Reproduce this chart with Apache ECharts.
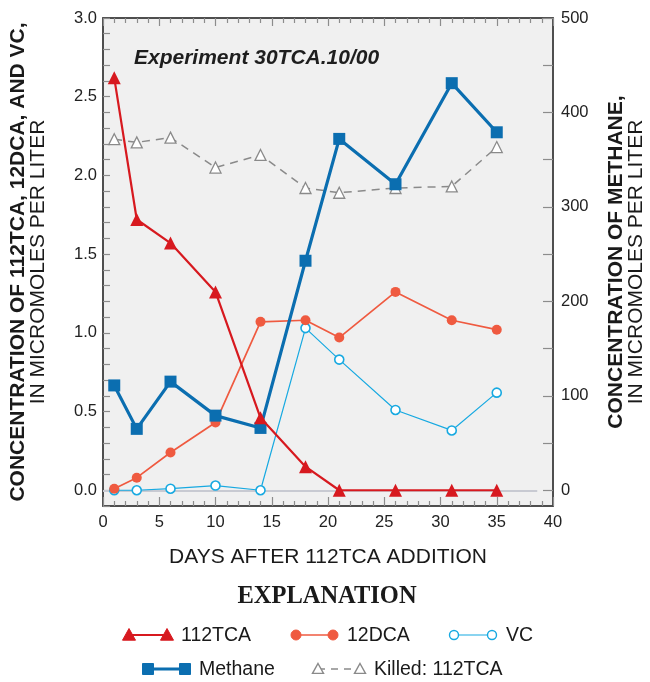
<!DOCTYPE html>
<html>
<head>
<meta charset="utf-8">
<script src="https://cdn.jsdelivr.net/npm/echarts@6/dist/echarts.min.js"></script>
<style>
  html, body { margin: 0; padding: 0; background: #ffffff; }
  #chart { width: 650px; height: 682px; }
</style>
</head>
<body>
<div id="chart"></div>
<script>
// Sampling days
var days = [1, 3, 6, 10, 14, 18, 21, 26, 31, 35];

// Concentrations, micromoles per liter (left axis)
var tca112 = [2.62, 1.72, 1.57, 1.26, 0.46, 0.15, 0, 0, 0, 0];
var dca12 = [0.01, 0.08, 0.24, 0.43, 1.07, 1.08, 0.97, 1.26, 1.08, 1.02];
var vc = [0, 0, 0.01, 0.03, 0, 1.03, 0.83, 0.51, 0.38, 0.62];
var killedTca = [2.23, 2.21, 2.24, 2.05, 2.13, 1.92, 1.89, 1.92, 1.93, 2.18];

// Methane, micromoles per liter (right axis)
var methane = [111, 65, 115, 79, 66, 243, 372, 324, 431, 379];

// Tick labels
var xLabels = [0, 5, 10, 15, 20, 25, 30, 35, 40];
var leftLabels = [0, 0.5, 1, 1.5, 2, 2.5, 3];
var rightLabels = [0, 100, 200, 300, 400, 500];
var rightTicks = [0, 50, 100, 150, 200, 250, 300, 350, 400, 450, 500];

var FONT = '"Liberation Sans", Arial, Helvetica, sans-serif';
var C_TCA = '#d7191f';
var C_DCA = '#ef5a40';
var C_VC = '#17a9e1';
var C_CH4 = '#0b6eb0';
var C_KILLED = '#8a8a8a';
var AXIS_LINE = '#444444';
var TICK = '#8c8c8c';

function pairs(xs, ys) {
  return xs.map(function (x, i) { return [x, ys[i]]; });
}

var chart = echarts.init(document.getElementById('chart'), null, { renderer: 'canvas' });

// Legend swatches: a line with a marker at each end
function legendEntry(x1, x2, y, color, lineWidth, dash, marker, filled, size, label) {
  var els = [];
  els.push({
    type: 'line', silent: true,
    shape: { x1: x1, y1: y, x2: x2, y2: y },
    style: { stroke: color, lineWidth: lineWidth, lineDash: dash || null }
  });
  [x1, x2].forEach(function (cx) {
    var style = filled
      ? { fill: color, stroke: color, lineWidth: 1 }
      : { fill: '#ffffff', stroke: color, lineWidth: 1.4 };
    var h = size / 2;
    if (marker === 'triangle') {
      els.push({ type: 'polygon', silent: true,
        shape: { points: [[cx, y - h], [cx + h, y + h * 0.8], [cx - h, y + h * 0.8]] }, style: style });
    } else if (marker === 'circle') {
      els.push({ type: 'circle', silent: true, shape: { cx: cx, cy: y, r: h }, style: style });
    } else {
      els.push({ type: 'rect', silent: true, shape: { x: cx - h, y: y - h, width: size, height: size }, style: style });
    }
  });
  els.push({
    type: 'text', silent: true,
    style: { x: x2 + 14, y: y + 1, text: label, fill: '#1a1a1a', font: '19.5px ' + FONT,
      textVerticalAlign: 'middle', textAlign: 'left' }
  });
  return els;
}

var legendEls = [].concat(
  legendEntry(129, 167, 635, C_TCA, 2, null, 'triangle', true, 13, '112TCA'),
  legendEntry(296, 333, 635, C_DCA, 1.7, null, 'circle', true, 10, '12DCA'),
  legendEntry(454, 492, 635, C_VC, 1.2, null, 'circle', false, 9, 'VC'),
  legendEntry(148, 185, 669, C_CH4, 3.2, null, 'square', true, 11, 'Methane'),
  legendEntry(318, 360, 669, C_KILLED, 1.4, [7, 6], 'triangle', false, 11, 'Killed: 112TCA')
);

legendEls.push({
  type: 'text', silent: true,
  style: { x: 327, y: 597, text: 'EXPLANATION', fill: '#1a1a1a',
    font: 'bold 24.5px "Liberation Serif", "Times New Roman", serif',
    textAlign: 'center', textVerticalAlign: 'middle' }
});

var nameRich = {
  b: { fontFamily: FONT, fontSize: 21, fontWeight: 'bold', color: '#1a1a1a', lineHeight: 20, align: 'center' },
  n: { fontFamily: FONT, fontSize: 21, color: '#1a1a1a', lineHeight: 20, align: 'center' }
};

var option = {
  backgroundColor: '#ffffff',
  animation: false,
  textStyle: { fontFamily: FONT },
  title: {
    text: 'Experiment 30TCA.10/00',
    left: 129, top: 43,
    textStyle: { fontFamily: FONT, fontSize: 21, fontWeight: 'bold', fontStyle: 'italic', color: '#1e1e1e' }
  },
  grid: {
    left: 103, right: 97, top: 18, bottom: 176,
    containLabel: false, outerBoundsMode: 'none',
    show: true, backgroundColor: '#f0f0f0', borderColor: AXIS_LINE, borderWidth: 1.5
  },
  xAxis: [{
    type: 'value', position: 'bottom', min: 0, max: 40, interval: 5,
    name: 'DAYS AFTER 112TCA ADDITION', nameLocation: 'middle', nameGap: 41,
    nameTextStyle: { fontFamily: FONT, fontSize: 21, color: '#1a1a1a' },
    axisLine: { show: true, onZero: false, lineStyle: { color: AXIS_LINE, width: 1.5 } },
    axisTick: { show: true, inside: true, length: 9, lineStyle: { color: TICK, width: 1.2 } },
    minorTick: { show: true, splitNumber: 5, length: 5, lineStyle: { color: TICK, width: 1.2 } },
    axisLabel: { show: true, margin: 8, fontFamily: FONT, fontSize: 16.5, color: '#222222',
      customValues: xLabels },
    splitLine: { show: false }
  }, {
    type: 'value', position: 'top', min: 0, max: 40, interval: 5,
    axisLine: { show: true, onZero: false, lineStyle: { color: AXIS_LINE, width: 1.5 } },
    axisTick: { show: true, inside: true, length: 8, lineStyle: { color: TICK, width: 1.2 } },
    minorTick: { show: true, splitNumber: 5, length: 5, lineStyle: { color: TICK, width: 1.2 } },
    axisLabel: { show: false },
    splitLine: { show: false }
  }],
  yAxis: [{
    type: 'value', position: 'left', min: -0.1, max: 3.0, interval: 0.1,
    name: '{b|CONCENTRATION OF 112TCA, 12DCA, AND VC,}\n{n|IN MICROMOLES PER LITER}',
    nameLocation: 'middle', nameRotate: 90, nameGap: 55,
    nameTextStyle: { align: 'center', rich: nameRich },
    axisLine: { show: true, onZero: false, lineStyle: { color: AXIS_LINE, width: 1.5 } },
    axisTick: { show: true, inside: true, length: 7, lineStyle: { color: TICK, width: 1.2 } },
    axisLabel: { show: true, margin: 6, fontFamily: FONT, fontSize: 16.5, color: '#222222',
      customValues: leftLabels,
      formatter: function (v) { return v.toFixed(1); } },
    splitLine: { show: false }
  }, {
    type: 'value', position: 'right', min: -50 / 3, max: 500,
    name: '{b|CONCENTRATION OF METHANE,}\n{n|IN MICROMOLES PER LITER}',
    nameLocation: 'middle', nameRotate: 90, nameGap: 53,
    nameTextStyle: { align: 'center', rich: nameRich },
    axisLine: { show: true, onZero: false, lineStyle: { color: AXIS_LINE, width: 1.5 } },
    axisTick: { show: true, inside: true, length: 10, customValues: rightTicks,
      lineStyle: { color: TICK, width: 1.2 } },
    axisLabel: { show: true, margin: 8, fontFamily: FONT, fontSize: 16.5, color: '#222222',
      customValues: rightLabels },
    splitLine: { show: false }
  }],
  graphic: legendEls,
  series: [{
    name: 'Killed: 112TCA', type: 'line', xAxisIndex: 0, yAxisIndex: 0,
    data: pairs(days, killedTca),
    symbol: 'triangle', symbolSize: 11, showAllSymbol: true,
    lineStyle: { color: C_KILLED, width: 1.5, type: [8, 6] },
    itemStyle: { color: '#ffffff', borderColor: C_KILLED, borderWidth: 1.3 },
    markLine: {
      silent: true, symbol: 'none', z: 1, label: { show: false },
      lineStyle: { color: '#c8cad2', width: 2, type: 'solid' },
      data: [[{ coord: [0, 0] }, { coord: [38.6, 0] }]]
    },
    z: 2
  }, {
    name: 'VC', type: 'line', xAxisIndex: 0, yAxisIndex: 0,
    data: pairs(days, vc),
    symbol: 'circle', symbolSize: 9,
    lineStyle: { color: C_VC, width: 1.2 },
    itemStyle: { color: '#ffffff', borderColor: C_VC, borderWidth: 1.6 },
    z: 3
  }, {
    name: '12DCA', type: 'line', xAxisIndex: 0, yAxisIndex: 0,
    data: pairs(days, dca12),
    symbol: 'circle', symbolSize: 10,
    lineStyle: { color: C_DCA, width: 1.7 },
    itemStyle: { color: C_DCA, borderWidth: 0 },
    z: 4
  }, {
    name: 'Methane', type: 'line', xAxisIndex: 0, yAxisIndex: 1,
    data: pairs(days, methane),
    symbol: 'rect', symbolSize: 12,
    lineStyle: { color: C_CH4, width: 3.2 },
    itemStyle: { color: C_CH4, borderWidth: 0 },
    z: 5
  }, {
    name: '112TCA', type: 'line', xAxisIndex: 0, yAxisIndex: 0,
    data: pairs(days, tca112),
    symbol: 'triangle', symbolSize: 13,
    lineStyle: { color: C_TCA, width: 2.2 },
    itemStyle: { color: C_TCA, borderWidth: 0 },
    z: 6
  }]
};

chart.setOption(option);
</script>
</body>
</html>
